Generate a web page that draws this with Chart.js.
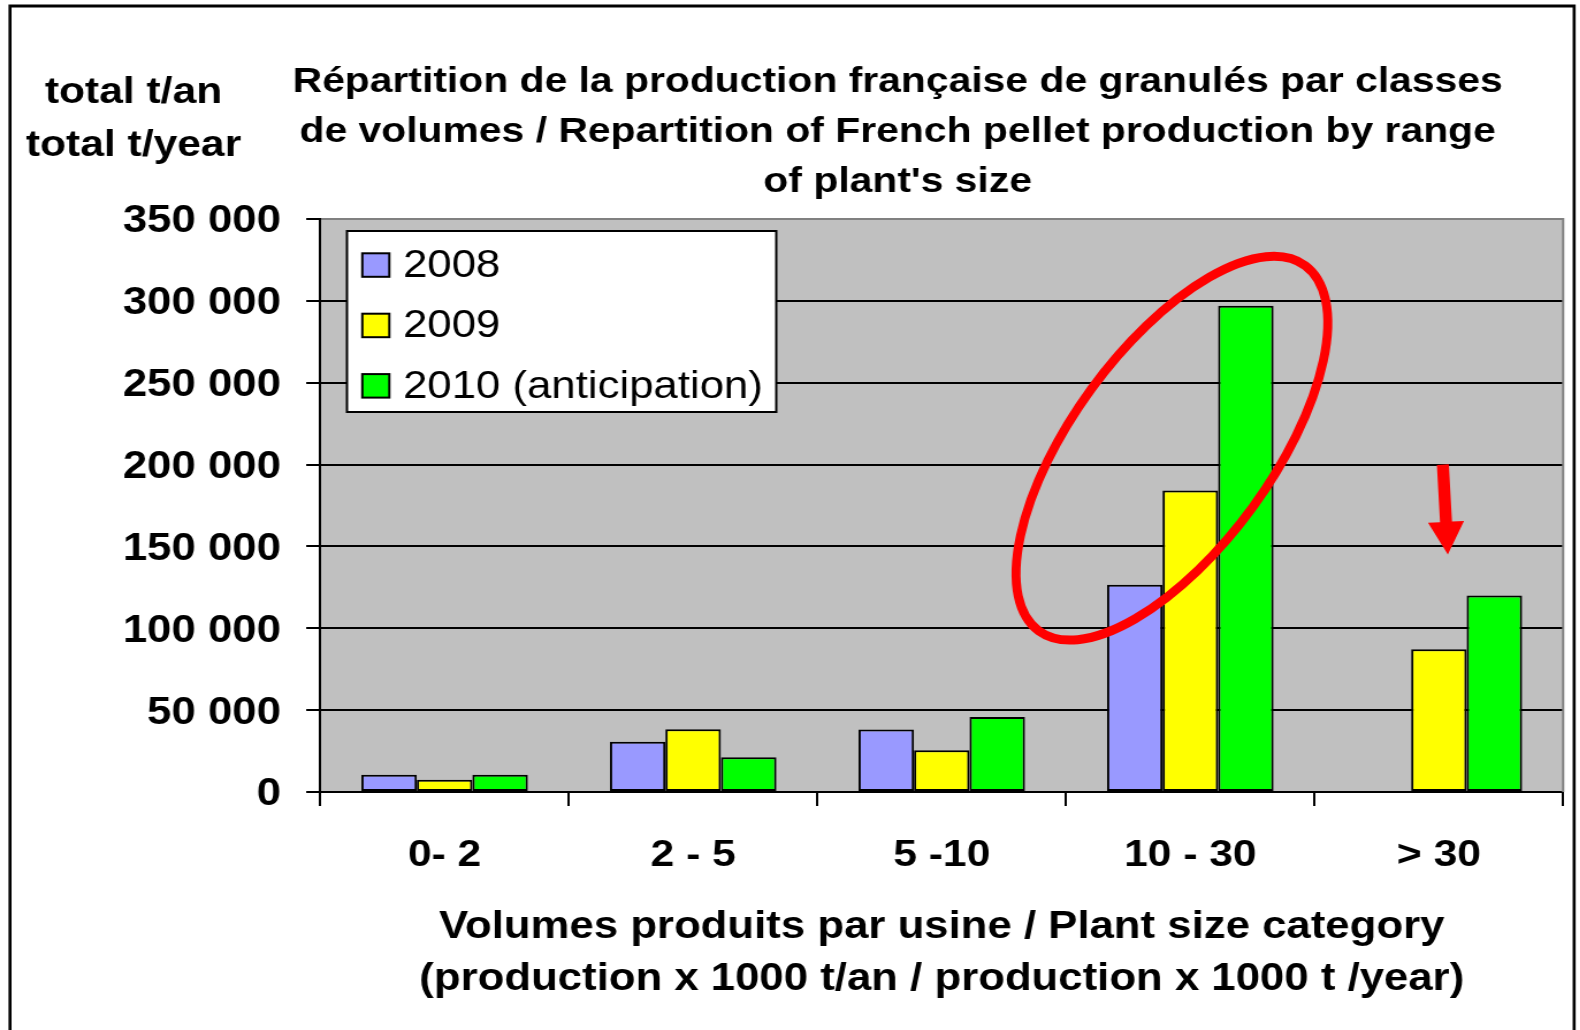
<!DOCTYPE html>
<html>
<head>
<meta charset="utf-8">
<script src="https://cdn.jsdelivr.net/npm/chart.js@4.4.0/dist/chart.umd.min.js"></script>
<style>
  html, body { margin: 0; padding: 0; background: #fff; overflow: hidden; }
  #wrap { position: absolute; left: 0; top: 0; height: 1030px; transform-origin: 0 0; }
</style>
</head>
<body>
<div id="wrap"><canvas id="chart"></canvas></div>
<script>
const categories = ["0- 2", "2 - 5", "5 -10", "10 - 30", "> 30"];
const seriesLabels = ["2008", "2009", "2010 (anticipation)"];
const seriesColors = ["#9999ff", "#ffff00", "#00ff00"];
const values2008 = [10500, 30700, 38100, 126600, null];
const values2009 = [7500, 38300, 25500, 184200, 87200];
const values2010 = [10500, 21200, 45800, 297000, 120100];
const yMax = 350000;
const yStep = 50000;

const titleLines = [
  "Répartition de la production française de granulés par classes",
  "de volumes / Repartition of French pellet production by range",
  "of plant's size"
];
const yTitleLines = ["total t/an", "total t/year"];
const xTitleLines = [
  "Volumes produits par usine / Plant size category",
  "(production x 1000 t/an / production x 1000 t /year)"
];

// red marks drawn over the plot, placed with the scales
const ellipseMark = { cat: 3, dx: -0.074, value: 210000, rx: 226, ry: 100, angle: -53.9 };
const arrowMark = { cat: 4, dxTop: 0.016, dxTip: 0.036, from: 200000, base: 165000, to: 145000 };

// the original picture is wider than its fonts, so the canvas gets stretched
const STRETCH = 1.15;
const W = 1580 / STRETCH;
const FONT = '"Liberation Sans", Arial, sans-serif';

const wrap = document.getElementById("wrap");
wrap.style.width = W + "px";
wrap.style.transform = "scaleX(" + STRETCH + ")";

function fmt(v) {
  return String(v).replace(/\B(?=(\d{3})+(?!\d))/g, " ");
}

const plotBg = {
  id: "plotBg",
  beforeDraw(chart) {
    const { ctx, chartArea: a } = chart;
    ctx.save();
    ctx.fillStyle = "#c0c0c0";
    ctx.fillRect(a.left, a.top, a.right - a.left, a.bottom - a.top);
    ctx.restore();
  },
  beforeDatasetsDraw(chart) {
    const { ctx, chartArea: a } = chart;
    ctx.save();
    ctx.strokeStyle = "#808080";
    ctx.lineWidth = 2;
    ctx.beginPath();
    ctx.moveTo(a.left + 1, a.top);
    ctx.lineTo(a.right, a.top);
    ctx.lineTo(a.right, a.bottom);
    ctx.stroke();
    ctx.restore();
  }
};

const marks = {
  id: "marks",
  afterDatasetsDraw(chart) {
    const { ctx } = chart;
    const x = chart.scales.x, y = chart.scales.y;
    const cw = x.getPixelForValue(1) - x.getPixelForValue(0);
    ctx.save();
    ctx.scale(1 / STRETCH, 1);
    ctx.strokeStyle = "#ff0000";
    ctx.fillStyle = "#ff0000";

    // ellipse round the 10 - 30 group
    const cx = (x.getPixelForValue(ellipseMark.cat) + ellipseMark.dx * cw) * STRETCH;
    const cy = y.getPixelForValue(ellipseMark.value);
    ctx.lineWidth = 9;
    ctx.beginPath();
    ctx.ellipse(cx, cy, ellipseMark.rx, ellipseMark.ry, ellipseMark.angle * Math.PI / 180, 0, Math.PI * 2);
    ctx.stroke();

    // arrow above > 30
    const c = x.getPixelForValue(arrowMark.cat);
    const x0 = (c + arrowMark.dxTop * cw) * STRETCH, y0 = y.getPixelForValue(arrowMark.from);
    const x1 = (c + arrowMark.dxTip * cw) * STRETCH, y1 = y.getPixelForValue(arrowMark.to);
    const yb = y.getPixelForValue(arrowMark.base);
    const t = (yb - y0) / (y1 - y0);
    const xb = x0 + (x1 - x0) * t;
    const len = Math.hypot(x1 - x0, y1 - y0);
    const nx = -(y1 - y0) / len, ny = (x1 - x0) / len;
    const sw = 6, hw = 18;
    ctx.beginPath();
    ctx.moveTo(x0 + nx * sw, y0 + ny * sw);
    ctx.lineTo(xb + nx * sw, yb + ny * sw);
    ctx.lineTo(xb + nx * hw, yb + ny * hw);
    ctx.lineTo(x1, y1);
    ctx.lineTo(xb - nx * hw, yb - ny * hw);
    ctx.lineTo(xb - nx * sw, yb - ny * sw);
    ctx.lineTo(x0 - nx * sw, y0 - ny * sw);
    ctx.closePath();
    ctx.fill();
    ctx.restore();
  }
};

const texts = {
  id: "texts",
  afterDraw(chart) {
    const { ctx, chartArea: a } = chart;
    ctx.save();
    ctx.fillStyle = "#000";

    // main title
    ctx.font = "bold 35.5px " + FONT;
    ctx.textAlign = "center";
    ctx.textBaseline = "alphabetic";
    titleLines.forEach((line, i) => ctx.fillText(line, 780, 92 + i * 50));

    // y axis title, flat in the corner
    ctx.font = "bold 37px " + FONT;
    yTitleLines.forEach((line, i) => ctx.fillText(line, 116, 103 + i * 53));

    // legend box
    const lx = a.left + 23.2, ly = a.top + 12, lw = 373, lh = 181;
    ctx.fillStyle = "#fff";
    ctx.fillRect(lx, ly, lw, lh);
    ctx.strokeStyle = "#000";
    ctx.lineWidth = 2;
    ctx.strokeRect(lx, ly, lw, lh);
    ctx.font = "38px " + FONT;
    ctx.textAlign = "left";
    ctx.textBaseline = "middle";
    chart.data.datasets.forEach((ds, i) => {
      const sy = ly + 22.3 + i * 60.4;
      ctx.fillStyle = ds.backgroundColor;
      ctx.fillRect(lx + 13.3, sy, 23.5, 23.5);
      ctx.strokeRect(lx + 13.3, sy, 23.5, 23.5);
      ctx.fillStyle = "#000";
      ctx.fillText(ds.label, lx + 48.7, sy + 13);
    });

    // frame round the picture
    ctx.scale(1 / STRETCH, 1);
    ctx.lineWidth = 3;
    ctx.strokeRect(10, 6, 1563, 1100);
    ctx.restore();
  }
};

const yTicks = [];
for (let v = 0; v <= yMax; v += yStep) yTicks.push(v);

new Chart(document.getElementById("chart"), {
  type: "bar",
  data: {
    labels: categories,
    datasets: [
      { label: seriesLabels[0], data: values2008, backgroundColor: seriesColors[0] },
      { label: seriesLabels[1], data: values2009, backgroundColor: seriesColors[1] },
      { label: seriesLabels[2], data: values2010, backgroundColor: seriesColors[2] }
    ]
  },
  options: {
    responsive: true,
    maintainAspectRatio: false,
    animation: false,
    layout: { padding: { left: 0, top: 219, right: W - 1358.3, bottom: 0 } },
    datasets: {
      bar: {
        borderColor: "#000",
        borderWidth: 2,
        borderSkipped: false,
        categoryPercentage: 0.67,
        barPercentage: 1.0
      }
    },
    plugins: {
      legend: { display: false },
      title: { display: false },
      tooltip: { enabled: false }
    },
    scales: {
      x: {
        afterFit: s => { s.height = 1030 - 792; },
        grid: {
          offset: true,
          drawOnChartArea: false,
          color: "#000",
          lineWidth: 2,
          tickLength: 14
        },
        border: { color: "#000", width: 2 },
        ticks: {
          color: "#000",
          padding: 28,
          font: { family: FONT, size: 37, weight: "bold", lineHeight: 1.2 }
        },
        title: {
          display: true,
          text: xTitleLines,
          color: "#000",
          padding: { top: 0, bottom: 24 },
          font: { family: FONT, size: 38, weight: "bold", lineHeight: 52 / 38 }
        }
      },
      y: {
        min: 0,
        max: yMax,
        afterFit: s => { s.width = 278.3; },
        afterBuildTicks: s => { s.ticks = yTicks.map(v => ({ value: v })); },
        grid: {
          color: c => (c.tick && c.tick.value === yMax ? "#808080" : "#000"),
          tickColor: "#000",
          lineWidth: 2,
          tickLength: 12.2
        },
        border: { color: "#000", width: 2 },
        ticks: {
          color: "#000",
          padding: 22,
          labelOffset: 3,
          callback: v => fmt(v),
          font: { family: FONT, size: 38, weight: "bold" }
        }
      }
    }
  },
  plugins: [plotBg, marks, texts]
});
</script>
</body>
</html>
